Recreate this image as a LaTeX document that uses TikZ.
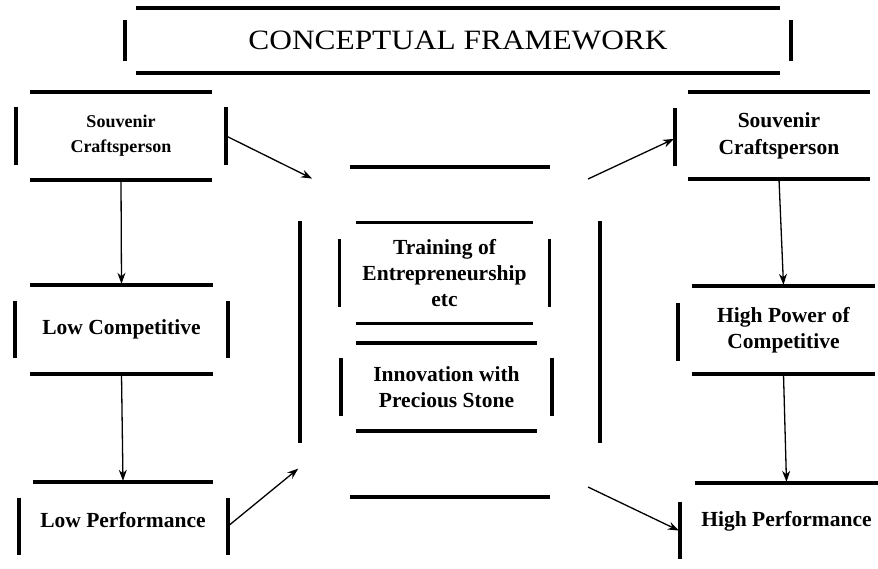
\documentclass[tikz,border=0pt]{standalone}
\usepackage{fontspec}
\setmainfont{Liberation Serif}
\newfontfamily\titlefont[FakeStretch=1.12]{Liberation Serif}
\usetikzlibrary{arrows.meta}
\tikzset{>={Stealth[scale=1]}}
\tikzset{
  bar/.style={line width=3.5pt},
  link/.style={->, line width=1.3pt, >={Stealth[length=11pt,width=8pt]}, shorten >=1pt},
  boxtext/.style={inner sep=0pt, align=center, font=\bfseries\fontsize{21.5}{26}\selectfont},
}
% four loose bars round a node: #2 side gap, #3 end gap
\newcommand{\framebars}[3]{%
  \draw[bar] (#1.north west) -- (#1.north east);
  \draw[bar] (#1.south west) -- (#1.south east);
  \draw[bar] ([xshift=-#2, yshift=-#3]#1.north west) -- ([xshift=-#2, yshift=#3]#1.south west);
  \draw[bar] ([xshift=#2, yshift=-#3]#1.north east) -- ([xshift=#2, yshift=#3]#1.south east);}

\begin{document}
\begin{tikzpicture}[x=1pt, y=-1pt]
\useasboundingbox (0,0) rectangle (878,568);

% title
\node[boxtext, font=\titlefont\fontsize{28}{34}\selectfont, minimum width=644pt, minimum height=65pt] (title) at (458,40.5) {CONCEPTUAL FRAMEWORK};
\framebars{title}{11pt}{12pt}

% left column
\node[boxtext, font=\bfseries\fontsize{18}{25}\selectfont, minimum width=182pt, minimum height=88pt] (craftL) at (121,136) {Souvenir\\Craftsperson};
\framebars{craftL}{14pt}{15pt}
\node[boxtext, minimum width=183pt, minimum height=89pt] (compL) at (121.5,329.5) {Low Competitive};
\framebars{compL}{15pt}{16pt}
\node[boxtext, minimum width=180pt, minimum height=76pt] (perfL) at (123,520) {Low Performance};
\draw[bar] (perfL.north west) -- (perfL.north east);
\draw[bar] ([xshift=-14pt, yshift=-16pt]perfL.north west) -- ([xshift=-14pt, yshift=3pt]perfL.south west);
\draw[bar] ([xshift=15pt, yshift=-16pt]perfL.north east) -- ([xshift=15pt, yshift=3pt]perfL.south east);

% middle
\node[inner sep=0pt, minimum width=200pt, minimum height=330pt] (mid) at (450,332) {};
\framebars{mid}{50pt}{54pt}
\node[boxtext, minimum width=177pt, minimum height=101pt] (train) at (444.5,273) {Training of\\Entrepreneurship\\etc};
\framebars{train}{16.5pt}{17pt}
\node[boxtext, minimum width=181pt, minimum height=88pt] (innov) at (446.5,387) {Innovation with\\Precious Stone};
\framebars{innov}{15pt}{15pt}

% right column
\node[boxtext, font=\bfseries\fontsize{21.5}{27}\selectfont, minimum width=182pt, minimum height=87pt] (craftR) at (779,135.5) {Souvenir\\Craftsperson};
\draw[bar] (craftR.north west) -- (craftR.north east);
\draw[bar] (craftR.south west) -- (craftR.south east);
\draw[bar] ([xshift=-13pt, yshift=-16pt]craftR.north west) -- ([xshift=-13pt, yshift=13pt]craftR.south west);
\node[boxtext, minimum width=183pt, minimum height=88pt] (compR) at (783.5,330) {High Power of\\Competitive};
\draw[bar] (compR.north west) -- (compR.north east);
\draw[bar] (compR.south west) -- (compR.south east);
\draw[bar] ([xshift=-14pt, yshift=-17pt]compR.north west) -- ([xshift=-14pt, yshift=13pt]compR.south west);
\node[boxtext, minimum width=183pt, minimum height=76pt] (perfR) at (786.5,521) {High Performance};
\draw[bar] (perfR.north west) -- (perfR.north east);
\draw[bar] ([xshift=-15pt, yshift=-19pt]perfR.north west) -- ([xshift=-15pt]perfR.south west);

% free ends by the middle frame
\coordinate (inUp) at (313,179);
\coordinate (inDown) at (299,468);
\coordinate (outUp) at (588,179);
\coordinate (outDown) at (588,487);

% connectors
\draw[link] (craftL.south) -- (compL.north);
\draw[link] (compL.south) -- (perfL.north);
\draw[link] (craftR.south) -- (compR.north);
\draw[link] (compR.south) -- (perfR.north);
\draw[link] ([xshift=14pt]craftL.east) -- (inUp);
\draw[link] ([xshift=15pt, yshift=-6pt]perfL.east) -- (inDown);
\draw[link] (outUp) -- ([xshift=-13pt, yshift=-3pt]craftR.west);
\draw[link] (outDown) -- ([xshift=-15pt, yshift=-10pt]perfR.west);
\end{tikzpicture}
\end{document}
